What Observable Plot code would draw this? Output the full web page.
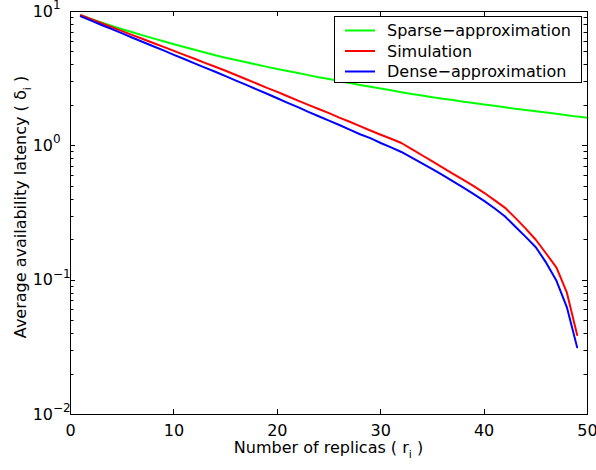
<!DOCTYPE html>
<html><head><meta charset="utf-8">
<script src="https://cdn.jsdelivr.net/npm/d3@7"></script>
<script src="https://cdn.jsdelivr.net/npm/@observablehq/plot@0.6"></script>
<style>
body{margin:0;background:#fff;}
#chart{width:596px;height:470px;}
</style></head><body><div id="chart"></div>
<script>
// ---- data ----
const replicasSparse = [1,2,3,4,5,6,7,8,9,10,11,12,13,14,15,16,17,18,19,20,21,22,23,24,25,26,27,28,29,30,31,32,33,34,35,36,37,38,39,40,41,42,43,44,45,46,47,48,49,50];
const sparse = [9.38,8.81,8.30,7.82,7.38,7.00,6.64,6.31,6.00,5.71,5.45,5.19,4.95,4.73,4.53,4.36,4.19,4.03,3.87,3.73,3.61,3.48,3.36,3.24,3.14,3.04,2.94,2.84,2.75,2.67,2.59,2.51,2.43,2.37,2.30,2.24,2.19,2.13,2.08,2.03,1.99,1.94,1.89,1.85,1.81,1.77,1.73,1.69,1.65,1.62];
const replicas = [1,2,3,4,5,6,7,8,9,10,11,12,13,14,15,16,17,18,19,20,21,22,23,24,25,26,27,28,29,30,31,32,33,34,35,36,37,38,39,40,41,42,43,44,45,46,47,48,49];
const simulation = [9.38,8.75,8.18,7.64,7.14,6.67,6.24,5.83,5.45,5.09,4.75,4.45,4.15,3.88,3.62,3.37,3.13,2.91,2.70,2.52,2.34,2.17,2.02,1.88,1.75,1.62,1.51,1.40,1.30,1.21,1.13,1.05,0.946,0.851,0.766,0.689,0.619,0.557,0.501,0.447,0.394,0.347,0.292,0.243,0.200,0.158,0.124,0.081,0.039];
const dense = [9.20,8.55,7.94,7.39,6.87,6.38,5.93,5.51,5.13,4.76,4.43,4.11,3.82,3.56,3.30,3.06,2.84,2.63,2.44,2.26,2.09,1.94,1.79,1.66,1.54,1.43,1.32,1.22,1.14,1.05,0.973,0.900,0.818,0.741,0.670,0.605,0.543,0.488,0.437,0.389,0.343,0.299,0.251,0.211,0.176,0.135,0.0989,0.0631,0.0316];
const xTicks = [0,10,20,30,40,50];
const yMajor = [10,1,0.1,0.01];
const yExponents = ["1","0","\u22121","\u22122"];
const yMinor = [2,3,4,5,6,7,8,9].flatMap(m => [0.01,0.1,1].map(d => m*d));
const seriesNames = ["Sparse\u2212approximation","Simulation","Dense\u2212approximation"];
const seriesColors = ["#00ff00","#ff0000","#0000ff"];
const xLabel = "Number of replicas ( r";
const yLabel = "Average availability latency ( \u03b4";

const toRows = (xs, ys) => xs.map((x, i) => ({x, y: ys[i]}));
const series = [toRows(replicasSparse, sparse), toRows(replicas, simulation), toRows(replicas, dense)];
const yLabels = yMajor.map((v, i) => ({v, e: yExponents[i]}));

const FONT = "DejaVu Sans, Liberation Sans, Arial, sans-serif";
const TICK = 5, MINOR = 3.5;

const chart = Plot.plot({
  width: 596, height: 470,
  marginLeft: 70, marginRight: 9, marginTop: 11, marginBottom: 56,
  style: {fontFamily: FONT, fontSize: "16px", background: "#fff", color: "#000"},
  x: {domain: [0, 50], label: null, axis: null},
  y: {type: "log", domain: [0.01, 10], label: null, axis: null},
  marks: [
    ...series.map((rows, i) => Plot.line(rows, {x: "x", y: "y", stroke: seriesColors[i], strokeWidth: 2})),
    Plot.frame({stroke: "#000", strokeWidth: 1}),
    Plot.text(xTicks, {x: d => d, frameAnchor: "bottom", text: d => String(d), lineAnchor: "top", dy: 10, fontSize: 16, fill: "#000"}),
    Plot.text(yLabels, {y: "v", frameAnchor: "left", text: () => "10", textAnchor: "end", dx: -17.5, fontSize: 16, fill: "#000"}),
    Plot.text(yLabels, {y: "v", frameAnchor: "left", text: "e", textAnchor: "start", dx: -17.5, dy: -6.5, fontSize: 12, fill: "#000"})
  ]
});
document.getElementById("chart").appendChild(chart);

const svg = d3.select(chart);

// inward ticks on all four sides, positioned with the plot's own scales
const sx = chart.scale("x"), sy = chart.scale("y");
const X = d3.scaleLinear().domain(sx.domain).range(sx.range);
const Y = d3.scaleLog().domain(sy.domain).range(sy.range);
const [x0, x1] = sx.range, [yb, yt] = sy.range;
const tg = svg.append("g").attr("stroke", "#000").attr("stroke-width", 1).attr("fill", "none");
xTicks.forEach(v => {
  const px = Math.round(X(v)) + 0.5;
  tg.append("line").attr("x1", px).attr("x2", px).attr("y1", yb).attr("y2", yb - TICK);
  tg.append("line").attr("x1", px).attr("x2", px).attr("y1", yt).attr("y2", yt + TICK);
});
[[yMajor, TICK], [yMinor, MINOR]].forEach(([vals, len]) => vals.forEach(v => {
  const py = Math.round(Y(v)) + 0.5;
  tg.append("line").attr("x1", x0).attr("x2", x0 + len).attr("y1", py).attr("y2", py);
  tg.append("line").attr("x1", x1).attr("x2", x1 - len).attr("y1", py).attr("y2", py);
}));

// x label
const xl = svg.append("text").attr("x", 328.5).attr("y", 453).attr("text-anchor", "middle")
  .attr("font-family", FONT).attr("font-size", 16).attr("fill", "#000");
xl.append("tspan").text(xLabel);
xl.append("tspan").attr("dy", 5).attr("font-size", 11).text("i");
xl.append("tspan").attr("dy", -5).text(" )");
// y label
const yl = svg.append("text").attr("transform", "translate(26,207) rotate(-90)").attr("text-anchor", "middle")
  .attr("font-family", FONT).attr("font-size", 16).attr("fill", "#000");
yl.append("tspan").text(yLabel);
yl.append("tspan").attr("dy", 5).attr("font-size", 11).text("i");
yl.append("tspan").attr("dy", -5).text(" )");
// legend
const lg = svg.append("g");
lg.append("rect").attr("x", 334.5).attr("y", 16.5).attr("width", 247).attr("height", 66)
  .attr("fill", "#fff").attr("stroke", "#000").attr("stroke-width", 1);
const rowY = [30.5, 51, 71.5];
seriesNames.forEach((name, i) => {
  lg.append("line").attr("x1", 345).attr("x2", 375).attr("y1", rowY[i]).attr("y2", rowY[i])
    .attr("stroke", seriesColors[i]).attr("stroke-width", 2);
  lg.append("text").attr("x", 387).attr("y", rowY[i] + 5.8).attr("text-anchor", "start")
    .attr("font-family", FONT).attr("font-size", 16).attr("fill", "#000").text(name);
});
</script>
</body></html>
